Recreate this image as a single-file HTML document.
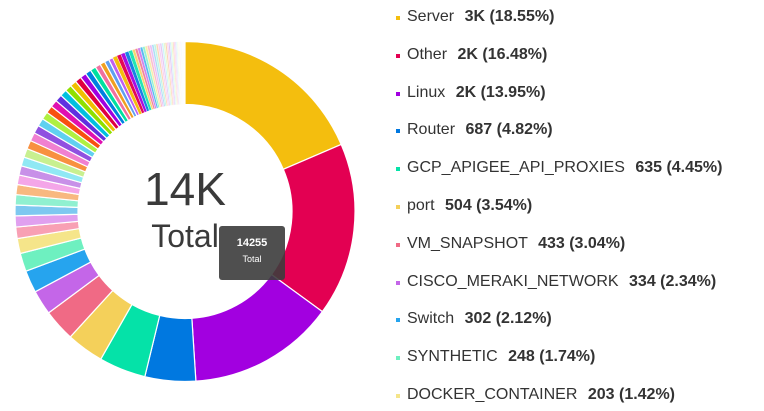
<!DOCTYPE html>
<html><head><meta charset="utf-8"><style>
body{margin:0;background:#fff;width:764px;height:411px;overflow:hidden;font-family:"Liberation Sans",sans-serif;}
svg{position:absolute;left:0;top:0}
.leg{position:absolute;left:396px;font-size:16px;color:#333;white-space:nowrap;line-height:20px}
.leg i{display:inline-block;width:4px;height:4px;margin-right:7px;vertical-align:1px}
.leg b{margin-left:6px}
</style></head><body>
<svg id="chart" width="764" height="411"></svg>
<div id="legend"></div>
<div style="position:absolute;left:219px;top:226px;width:66px;height:54px;background:rgba(60,60,60,0.9);border-radius:3px;color:#fff;text-align:center;font-size:11px;">
<div style="margin-top:11px;font-weight:bold">14255</div>
<div style="margin-top:5px;font-size:9px">Total</div></div>
<script>
const labels=["Server","Other","Linux","Router","GCP_APIGEE_API_PROXIES","port","VM_SNAPSHOT","CISCO_MERAKI_NETWORK","Switch","SYNTHETIC","DOCKER_CONTAINER"];
const shown=["3K","2K","2K","687","635","504","433","334","302","248","203"];
const values=[2644,2349,1989,687,635,504,433,334,302,248,203,
155,150,145,140,135,130,125,122,120,117,115,110,
108,104,100,98,96,93,90,88,86,83,80,78,73,68,63,58,
60,58,56,54,52,38,36,35,34,33,32,31,30,29,28,27,26,25,24,23,22,21,20,19,18,17,16,15,14,13,12,11,10,10,9,9,8,8,7,7];
const colors=["#f4be0e","#e30052","#a200e0","#0078e0","#05e2a8","#f4d05a","#f06a85","#c466e8","#26a4ee","#6ef0c0","#f5e58a",
"#f8a0b4","#e0a0ef","#7ec8f0","#90f0d0","#f8b880","#f4a6e8","#c890e8","#90e8f4","#c8f090","#f89040","#f080d0","#9050e0",
"#60d0f0","#b0f040","#f85010","#e010b0","#6030e0","#00c0e0","#90e000","#f0c000","#e00040","#a000e0","#0080e0","#00e0a0","#f070a0","#f0a020","#60a0f0","#c060f0"];
const svg=document.getElementById('chart');
const NS='http://www.w3.org/2000/svg';
const cx=185,cy=211.5,R=170,r=107;
const total=values.reduce((a,b)=>a+b,0);
function pt(a,rad){return [cx+rad*Math.sin(a),cy-rad*Math.cos(a)];}
let acc=0;
values.forEach((v,i)=>{
 const a0=acc/total*2*Math.PI; acc+=v; const a1=acc/total*2*Math.PI;
 const [x0,y0]=pt(a0,R),[x1,y1]=pt(a1,R),[x2,y2]=pt(a1,r),[x3,y3]=pt(a0,r);
 const lg=a1-a0>Math.PI?1:0;
 const p=document.createElementNS(NS,'path');
 p.setAttribute('d',`M${x0},${y0}A${R},${R} 0 ${lg} 1 ${x1},${y1}L${x2},${y2}A${r},${r} 0 ${lg} 0 ${x3},${y3}Z`);
 let op=1;
 if(i>=39){op=Math.max(0.08,1-(i-39)*0.03);}
 p.setAttribute('fill',colors[i%colors.length]);
 p.setAttribute('fill-opacity',op);
 p.setAttribute('stroke','#fff');p.setAttribute('stroke-width',i>=39?0.4:1.2);
 
 
 svg.appendChild(p);
});
function txt(x,y,s,sz,name){const t=document.createElementNS(NS,'text');t.setAttribute('x',x);t.setAttribute('y',y);t.setAttribute('text-anchor','middle');t.setAttribute('font-size',sz);t.setAttribute('fill','#3a3a3a');t.setAttribute('font-family','Liberation Sans, sans-serif');t.textContent=s;


svg.appendChild(t);}
txt(185,205,'14K',46,'center-value');
txt(185,247,'Total',32,'center-label');
const leg=document.getElementById('legend');
labels.forEach((l,i)=>{
 const d=document.createElement('div');d.className='leg';d.style.top=(7+i*37.8)+'px';
 
 
 const pct=(values[i]/total*100).toFixed(2);
 d.innerHTML=`<i style="background:${colors[i]}"></i>${l} <b>${shown[i]} (${pct}%)</b>`;
 leg.appendChild(d);
});
</script>
</body></html>
